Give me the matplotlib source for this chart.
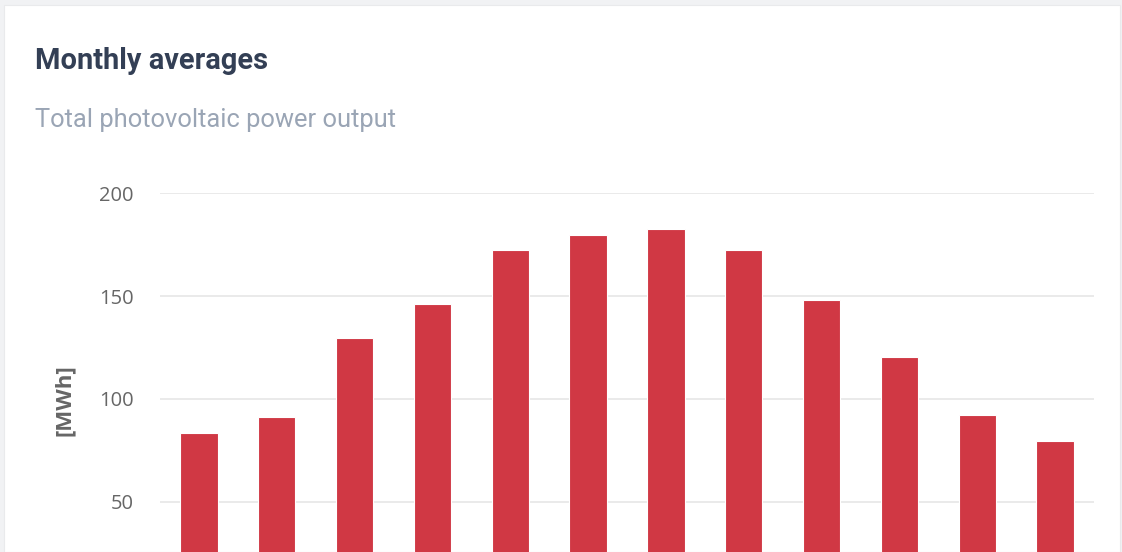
import matplotlib.pyplot as plt
from matplotlib.patches import Rectangle

months = ['Jan', 'Feb', 'Mar', 'Apr', 'May', 'Jun',
          'Jul', 'Aug', 'Sep', 'Oct', 'Nov', 'Dec']
output_mwh = [83.6, 91.2, 129.8, 146.0, 172.3, 179.9,
              182.8, 172.3, 148.1, 120.2, 92.0, 79.7]
y_ticks = [50, 100, 150, 200]

W, H = 1122, 552
fig = plt.figure(figsize=(W / 100, H / 100), dpi=100)
fig.patch.set_facecolor('#f1f2f4')

# white card behind the chart
card = Rectangle((4 / W, 0), (1120 - 4) / W, (H - 5) / H,
                 transform=fig.transFigure, facecolor='white',
                 edgecolor='#e9eaec', linewidth=0.8, zorder=-10)
fig.patches.append(card)

fig.text(35 / W, 1 - 61 / H, 'Monthly averages', family='Roboto',
         fontsize=20.9, fontweight='bold', color='#333f55', va='center')
fig.text(35 / W, 1 - 120 / H, 'Total photovoltaic power output', family='Roboto',
         fontsize=18.35, color='#9aa5b5', va='center')

# plot area: 200 line at y=193.5 px, 0 line below the visible frame
top, zero = 193.5, 604.5
ax = fig.add_axes([160 / W, 1 - zero / H, (1094 - 160) / W, (zero - top) / H])
ax.set_facecolor('none')

x = range(len(months))
ax.bar(x, output_mwh, width=0.48, color='#d03844', edgecolor='white',
       linewidth=0.8, zorder=3)

ax.set_xlim(-0.5, len(months) - 0.5)
ax.set_ylim(0, 200)
ax.set_yticks(y_ticks)
ax.set_xticks(list(x))
ax.set_xticklabels(months)
ax.grid(axis='y', color='#e6e6e6', linewidth=1.2, zorder=0)
for s in ax.spines.values():
    s.set_visible(False)
# month labels sit below the visible frame
ax.tick_params(axis='x', length=0, labelbottom=False)
ax.tick_params(axis='y', length=0, pad=19, labelsize=14.5, labelcolor='#666666')
for lbl in ax.get_yticklabels():
    lbl.set_family('Open Sans')
ax.set_ylabel('[MWh]', family='Open Sans', fontsize=16, fontweight='bold',
              color='#666666')
ax.yaxis.set_label_coords(-85 / 934, (zero - 400) / (zero - top))

fig.savefig('out.png', dpi=100, facecolor=fig.get_facecolor())
